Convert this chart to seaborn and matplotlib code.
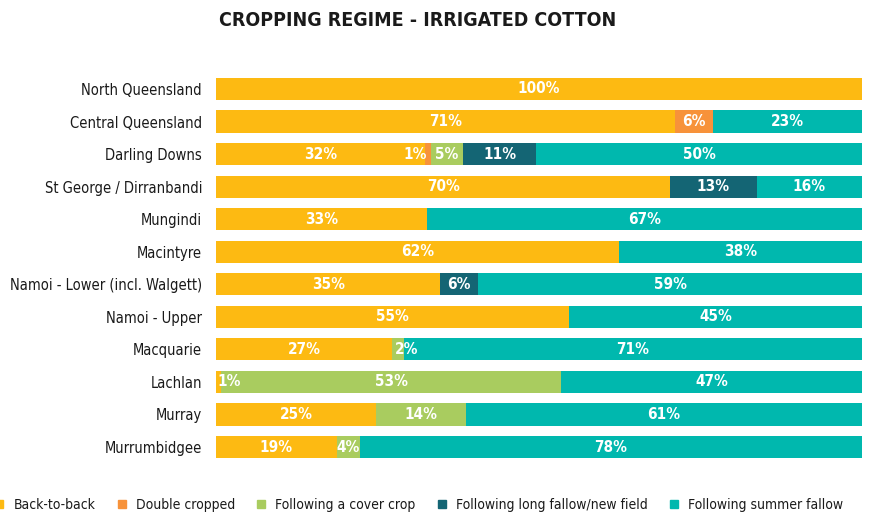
import matplotlib
matplotlib.use("Agg")
import matplotlib.pyplot as plt
from matplotlib.lines import Line2D
import seaborn as sns
import numpy as np
import pandas as pd

regions = ["North Queensland", "Central Queensland", "Darling Downs", "St George / Dirranbandi",
           "Mungindi", "Macintyre", "Namoi - Lower (incl. Walgett)", "Namoi - Upper",
           "Macquarie", "Lachlan", "Murray", "Murrumbidgee"]
series = ["Back-to-back", "Double cropped", "Following a cover crop",
          "Following long fallow/new field", "Following summer fallow"]
back_to_back    = [100, 71, 32.3, 70.3, 32.6, 62.4, 34.7, 54.6, 27.2, 0.8, 24.8, 18.7]
double_cropped  = [0, 6, 1.0, 0, 0, 0, 0, 0, 0, 0, 0, 0]
cover_crop      = [0, 0, 4.9, 0, 0, 0, 0, 0, 1.9, 52.6, 13.9, 3.6]
long_fallow     = [0, 0, 11.4, 13.4, 0, 0, 5.9, 0, 0, 0, 0, 0]
summer_fallow   = [0, 23, 50.4, 16.3, 67.4, 37.6, 59.4, 45.4, 70.9, 46.6, 61.3, 77.7]

colors = ["#FDBA12", "#F7923A", "#A9CC5F", "#146574", "#00B8AE"]

font = ["DejaVu Sans"]
sns.set_theme(style="white")
plt.rcParams["font.family"] = font
plt.rcParams["font.stretch"] = "condensed"

data = np.array([back_to_back, double_cropped, cover_crop, long_fallow, summer_fallow])
cum = np.cumsum(data, axis=0)

fig = plt.figure(figsize=(8.7, 5.15), dpi=100)
ax = fig.add_axes([216/870, 1-463.3/515, 646/870, (463.3-72.7)/515])

for i in reversed(range(len(series))):
    df = pd.DataFrame({"region": regions, "value": cum[i]})
    sns.barplot(data=df, x="value", y="region", orient="h", color=colors[i],
                saturation=1, width=0.68, ax=ax, edgecolor="none", linewidth=0)

label_offsets = {(2, 1): -2.0, (9, 0): 1.6, (8, 2): 1.4}
for r in range(len(regions)):
    for i in range(len(series)):
        v = data[i, r]
        if v <= 0:
            continue
        xc = cum[i, r] - v / 2 + label_offsets.get((r, i), 0)
        ax.text(xc, r, "%.0f%%" % v, ha="center", va="center", color="white",
                fontsize=11, fontweight="bold", fontstretch="condensed")

ax.set_xlim(0, 100)
ax.set_ylim(11.5, -0.5)
ax.set_xlabel("")
ax.set_ylabel("")
ax.set_xticks([])
for s in ax.spines.values():
    s.set_visible(False)
ax.tick_params(axis="y", length=0, pad=10, labelsize=10.5, labelcolor="#1a1a1a")
for t in ax.get_yticklabels():
    t.set_fontstretch("condensed")

fig.text(418/870, 1-20/515, "CROPPING REGIME - IRRIGATED COTTON", ha="center", va="center",
         fontsize=14, fontweight="bold", color="#1a1a1a", fontstretch="condensed")

handles = [Line2D([0], [0], marker="s", linestyle="none", markersize=6,
                  markerfacecolor=c, markeredgecolor=c) for c in colors]
leg = fig.legend(handles, series, loc="center left", bbox_to_anchor=(-0.007, 1-505/515),
                 ncol=5, frameon=False, prop={"size": 10, "stretch": "condensed"},
                 handlelength=0.8, handletextpad=0.6,
                 columnspacing=1.5, borderaxespad=0, borderpad=0)
for t in leg.get_texts():
    t.set_color("#1a1a1a")

fig.savefig("out.png", dpi=100)
